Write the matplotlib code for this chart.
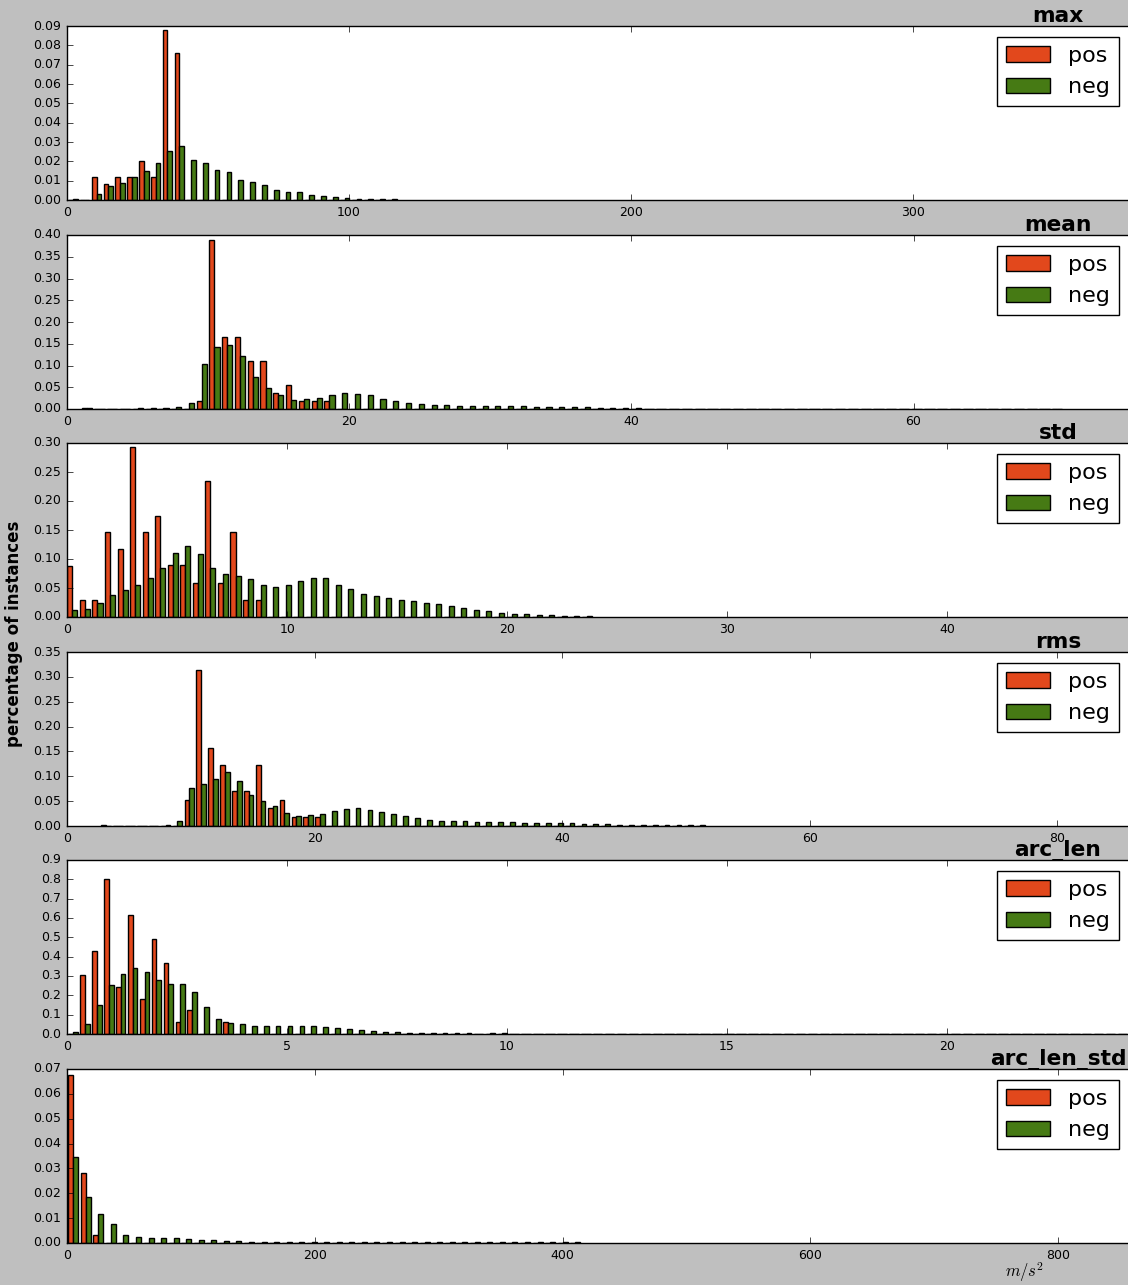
import numpy as np
import matplotlib
matplotlib.use("Agg")
import matplotlib.pyplot as plt
from matplotlib.ticker import MultipleLocator

plt.style.use("classic")

features = ["max", "mean", "std", "rms", "arc_len", "arc_len_std"]

# histogram bins of each feature: left edge of first bin and bin width
bin_start = [0.0, 0.95, -0.04, 2.68, 0.0, 0.0]
bin_width = [4.19, 0.905, 0.570, 0.96, 0.271, 10.13]

# percentage of instances per bin
max_pos = [0, 0, 0.012, 0.0081, 0.0118, 0.0118, 0.020, 0.0118, 0.088, 0.076,
           0, 0, 0, 0, 0, 0, 0, 0, 0, 0,
           0, 0, 0, 0, 0, 0, 0, 0]
max_neg = [0.0003, 0, 0.003, 0.0071, 0.0087, 0.0118, 0.0149, 0.019, 0.0253, 0.0279,
           0.0206, 0.019, 0.0153, 0.0143, 0.0102, 0.0091, 0.0076, 0.005, 0.004, 0.004,
           0.0024, 0.0019, 0.0014, 0.0009, 0.0005, 0.0004, 0.0004, 0.0004]

mean_pos = [0.002, 0, 0, 0, 0, 0, 0, 0, 0, 0.018,
            0.388, 0.166, 0.166, 0.110, 0.110, 0.036, 0.055, 0.018, 0.018, 0.018,
            0, 0, 0, 0, 0, 0, 0, 0, 0, 0,
            0, 0, 0, 0, 0, 0, 0, 0, 0, 0,
            0, 0, 0, 0, 0, 0, 0, 0, 0, 0,
            0, 0, 0, 0, 0, 0, 0, 0, 0, 0,
            0, 0, 0, 0, 0, 0, 0, 0, 0, 0,
            0, 0, 0, 0, 0, 0, 0]
mean_neg = [0.002, 0, 0, 0, 0.002, 0.002, 0.002, 0.004, 0.013, 0.103,
            0.143, 0.147, 0.122, 0.073, 0.048, 0.032, 0.020, 0.022, 0.025, 0.032,
            0.036, 0.034, 0.032, 0.022, 0.018, 0.014, 0.012, 0.0095, 0.0095, 0.007,
            0.007, 0.007, 0.007, 0.007, 0.007, 0.005, 0.005, 0.005, 0.005, 0.005,
            0.003, 0.003, 0.003, 0.002, 0.001, 0.001, 0.001, 0.001, 0.001, 0.001,
            0.001, 0.001, 0.001, 0.001, 0.001, 0.001, 0.001, 0.001, 0.001, 0.001,
            0.001, 0.001, 0.001, 0, 0.001, 0, 0.001, 0, 0, 0,
            0.001, 0, 0, 0, 0, 0, 0.001]

std_pos = [0.088, 0.0287, 0.0287, 0.146, 0.117, 0.293, 0.146, 0.175, 0.089, 0.089,
           0.058, 0.234, 0.058, 0.146, 0.0287, 0.0287, 0, 0, 0, 0,
           0, 0, 0, 0, 0, 0, 0, 0, 0, 0,
           0, 0, 0, 0, 0, 0, 0, 0, 0, 0,
           0, 0]
std_neg = [0.0115, 0.013, 0.0236, 0.0374, 0.046, 0.056, 0.067, 0.084, 0.110, 0.122,
           0.108, 0.084, 0.075, 0.070, 0.065, 0.0546, 0.051, 0.056, 0.0615, 0.067,
           0.067, 0.056, 0.048, 0.039, 0.037, 0.032, 0.029, 0.027, 0.0236, 0.0218,
           0.0184, 0.015, 0.0115, 0.0098, 0.0063, 0.0046, 0.0046, 0.003, 0.003, 0.001,
           0.001, 0.001]

rms_pos = [0.0015, 0, 0, 0, 0, 0, 0, 0.0516, 0.313, 0.156,
           0.122, 0.0697, 0.0697, 0.122, 0.0355, 0.0516, 0.0174, 0.0174, 0.0174, 0,
           0, 0, 0, 0, 0, 0, 0, 0, 0, 0,
           0, 0, 0, 0, 0, 0, 0, 0, 0, 0,
           0, 0, 0, 0, 0, 0, 0, 0, 0, 0,
           0]
rms_neg = [0, 0, 0, 0, 0, 0.0012, 0.0094, 0.0758, 0.0838, 0.094,
           0.108, 0.0899, 0.0617, 0.0496, 0.0396, 0.0255, 0.0194, 0.0215, 0.0235, 0.0295,
           0.0335, 0.0355, 0.0315, 0.0275, 0.0235, 0.0194, 0.0154, 0.0114, 0.0094, 0.0094,
           0.0094, 0.0074, 0.0074, 0.0074, 0.0074, 0.0054, 0.0054, 0.0054, 0.0054, 0.0054,
           0.0034, 0.0034, 0.0034, 0.0013, 0.0013, 0.0013, 0.0013, 0.0013, 0.0013, 0.0013,
           0.0013]

arc_len_pos = [0, 0.303, 0.428, 0.80, 0.243, 0.614, 0.179, 0.490, 0.366, 0.060,
               0.122, 0, 0, 0.060, 0, 0, 0, 0, 0, 0,
               0, 0, 0, 0, 0, 0, 0, 0, 0, 0,
               0, 0, 0, 0, 0, 0, 0, 0, 0, 0,
               0, 0, 0, 0, 0, 0, 0, 0, 0, 0,
               0, 0, 0, 0, 0, 0, 0, 0, 0, 0,
               0, 0, 0, 0, 0, 0, 0, 0, 0, 0,
               0, 0, 0, 0, 0, 0, 0, 0, 0, 0,
               0, 0, 0, 0, 0, 0, 0, 0, 0]
arc_len_neg = [0.0086, 0.05, 0.148, 0.252, 0.309, 0.340, 0.319, 0.278, 0.257, 0.257,
               0.216, 0.138, 0.076, 0.055, 0.050, 0.040, 0.040, 0.040, 0.040, 0.040,
               0.040, 0.034, 0.029, 0.024, 0.019, 0.014, 0.0086, 0.0086, 0.003, 0.003,
               0.003, 0.003, 0.003, 0.003, 0, 0.003, 0.003, 0, 0.002, 0.002,
               0.002, 0.002, 0.002, 0.002, 0.002, 0.002, 0.002, 0.002, 0.002, 0.002,
               0.002, 0.002, 0.002, 0.002, 0.002, 0.002, 0.002, 0.002, 0.002, 0.002,
               0.002, 0.002, 0.002, 0.002, 0.002, 0.002, 0.002, 0.002, 0.002, 0.002,
               0.002, 0.002, 0.002, 0.002, 0.002, 0.002, 0.002, 0.002, 0.002, 0.002,
               0.002, 0.002, 0.002, 0.002, 0.002, 0.002, 0.002, 0.002, 0.002]

arc_len_std_pos = [0.0675, 0.028, 0.0031, 0, 0, 0, 0, 0, 0, 0,
                   0, 0, 0, 0, 0, 0, 0, 0, 0, 0,
                   0, 0, 0, 0, 0, 0, 0, 0, 0, 0,
                   0, 0, 0, 0, 0, 0, 0, 0, 0, 0,
                   0]
arc_len_std_neg = [0.0345, 0.0184, 0.0115, 0.0075, 0.0031, 0.0023, 0.0019, 0.0019, 0.0019, 0.0015,
                   0.0011, 0.0011, 0.0007, 0.0007, 0.0003, 0.0003, 0.0003, 0.0003, 0.0003, 0.0003,
                   0.0003, 0.0003, 0.0003, 0.0003, 0.0003, 0.0003, 0.0003, 0.0003, 0.0003, 0.0003,
                   0.0003, 0.0003, 0.0003, 0.0003, 0.0003, 0.0003, 0.0003, 0.0003, 0.0003, 0.0003,
                   0.0003]

pos_values = [max_pos, mean_pos, std_pos, rms_pos, arc_len_pos, arc_len_std_pos]
neg_values = [max_neg, mean_neg, std_neg, rms_neg, arc_len_neg, arc_len_std_neg]

# axis ranges and tick steps
x_right = [376.2, 75.2, 48.2, 85.7, 24.11, 856.5]
x_step = [100, 20, 10, 20, 5, 200]
y_top = [0.09, 0.40, 0.30, 0.35, 0.9, 0.07]
y_step = [0.01, 0.05, 0.05, 0.05, 0.1, 0.01]

pos_color = "#E2481C"
neg_color = "#467A14"

W, H = 1128, 1285
fig = plt.figure(figsize=(W / 100, H / 100), dpi=100)
fig.patch.set_facecolor("0.75")

left = 67 / W
tops_px = [26, 235, 443, 652, 860, 1069]
ax_h = 174 / H

for i, name in enumerate(features):
    ax = fig.add_axes([left, 1 - tops_px[i] / H - ax_h, 1 - left, ax_h])
    edges = bin_start[i] + bin_width[i] * np.arange(len(pos_values[i]) + 1)
    centers = (edges[:-1] + edges[1:]) / 2
    ax.hist([centers, centers], bins=edges, weights=[pos_values[i], neg_values[i]],
            color=[pos_color, neg_color], label=["pos", "neg"],
            edgecolor="black", linewidth=1)
    ax.set_xlim(0, x_right[i])
    ax.set_ylim(0, y_top[i])
    ax.xaxis.set_major_locator(MultipleLocator(x_step[i]))
    ax.yaxis.set_major_locator(MultipleLocator(y_step[i]))
    ax.spines["right"].set_visible(False)
    ax.tick_params(labelsize=9, right=False)
    ax.legend(loc="upper right", fontsize=16,
              bbox_to_anchor=(1 + 2 / 1061, 1))
    ax.text(0.934, 1.0 + 4 / 174, name, transform=ax.transAxes, ha="center",
            va="baseline", fontsize=15.7, fontweight="bold")

fig.text(14 / W, 1 - 634 / H, "percentage of instances", rotation=90,
         ha="center", va="center", fontsize=12, fontweight="bold")
fig.text(1025 / W, 1 - 1272 / H, "$m/s^2$", ha="center", va="center", fontsize=12)

fig.savefig("out.png", dpi=100, facecolor=fig.get_facecolor())
